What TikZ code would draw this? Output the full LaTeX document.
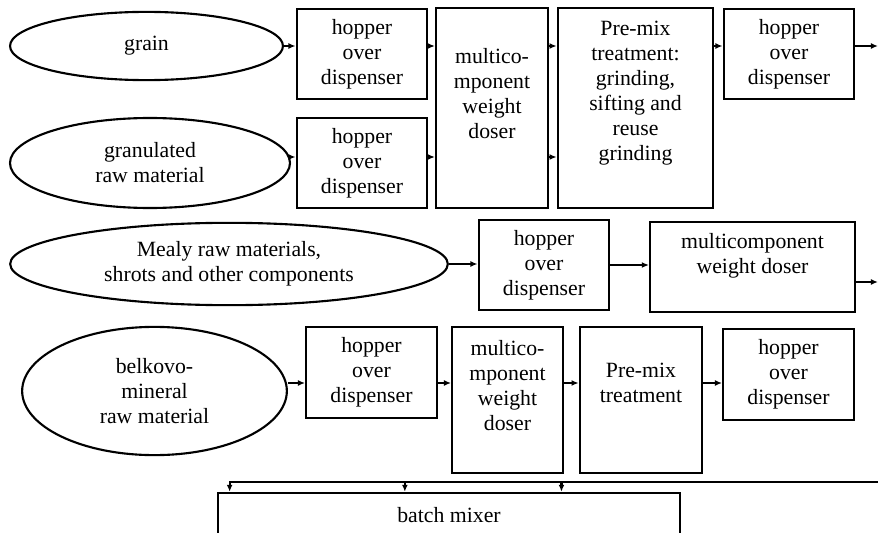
\documentclass[tikz,border=0pt]{standalone}
\usepackage{fontspec}
\setmainfont{Liberation Serif}
\usetikzlibrary{arrows.meta, positioning, shapes.geometric, calc}

\begin{document}
\begin{tikzpicture}[x=0.85pt, y=-0.85pt, >={Latex[length=6pt, width=5pt]},
    font=\fontsize{18.5}{21.25}\selectfont,
    box/.style={draw, line width=2pt, align=center, inner sep=2pt},
    hopbox/.style={box, minimum width=111pt, minimum height=77pt},
    src/.style={draw, ellipse, line width=1.8pt, align=center, inner sep=0pt},
    flow/.style={->, line width=1.8pt},
    toptext/.style={anchor=north, align=center, inner sep=0pt}]
    \useasboundingbox (0,0) rectangle (878,533);

    % grain and granulated line
    \node[src, minimum width=232pt, minimum height=58pt] (grain) at (146.5,46) {grain};
    \node[src, minimum width=238pt, minimum height=76.5pt] (granul) at (150,163) {granulated\\raw material};
    \node[hopbox] (hopA) at (362,54) {hopper\\over\\dispenser};
    \node[hopbox] (hopB) at (362,163) {hopper\\over\\dispenser};
    \node[box, minimum width=95pt, minimum height=170pt,
        label={[toptext, yshift=-35pt]north:{multico-\\mponent\\weight\\doser}}] (doserA) at (492,108) {};
    \node[box, minimum width=132pt, minimum height=170pt,
        label={[toptext, yshift=-12pt]north:{Pre-mix\\treatment:\\grinding,\\sifting and\\reuse\\grinding}}] (premixA) at (635.5,108) {};
    \node[hopbox] (hopC) at (789,54) {hopper\\over\\dispenser};

    % mealy line
    \node[src, minimum width=372pt, minimum height=70pt] (mealy) at (229,264) {Mealy raw materials,\\shrots and other components};
    \node[hopbox] (hopD) at (544,265) {hopper\\over\\dispenser};
    \node[box, minimum width=174pt, minimum height=76.5pt,
        label={[toptext, yshift=-10.5pt]north:{multicomponent\\weight doser}}] (doserB) at (752.5,267) {};

    % belkovo-mineral line
    \node[src, minimum width=225pt, minimum height=109pt] (belkovo) at (154.5,391) {belkovo-\\mineral\\raw material};
    \node[hopbox] (hopE) at (371.5,372.5) {hopper\\over\\dispenser};
    \node[box, minimum width=94pt, minimum height=124pt,
        label={[toptext, yshift=-12pt]north:{multico-\\mponent\\weight\\doser}}] (doserC) at (507.5,400) {};
    \node[box, minimum width=104pt, minimum height=124pt,
        label={[toptext, yshift=-31pt]north:{Pre-mix\\treatment}}] (premixB) at (641,400) {};
    \node[hopbox] (hopF) at (788.5,374.5) {hopper\\over\\dispenser};

    \node[box, minimum width=393pt, minimum height=37.4pt] (mixer) at (449,515) {batch mixer};

    \coordinate (outA) at (878,46);
    \coordinate (outB) at (878,282);
    \coordinate (bus) at (878,482);
    \coordinate (rowB) at (0,157);
    \coordinate (rowE) at (0,383);
    \coordinate (dropA) at ($(mixer.north west)!0.028!(mixer.north east)$);
    \coordinate (dropB) at ($(mixer.north west)!0.405!(mixer.north east)$);
    \coordinate (dropC) at ($(mixer.north west)!0.742!(mixer.north east)$);

    \draw[flow] (grain.east) -- (grain.east -| hopA.west);
    \draw[flow] (grain.east -| hopA.east) -- (grain.east -| doserA.west);
    \draw[flow] (granul.east |- rowB) -- (rowB -| hopB.west);
    \draw[flow] (rowB -| hopB.east) -- (rowB -| doserA.west);
    \draw[flow] (grain.east -| doserA.east) -- (grain.east -| premixA.west);
    \draw[flow] (rowB -| doserA.east) -- (rowB -| premixA.west);
    \draw[flow] (grain.east -| premixA.east) -- (grain.east -| hopC.west);
    \draw[flow] (grain.east -| hopC.east) -- (outA);

    \draw[flow] (mealy.east) -- (mealy.east -| hopD.west);
    \draw[flow] (hopD.east) -- (hopD.east -| doserB.west);
    \draw[flow] (outB -| doserB.east) -- (outB);

    \draw[flow] (belkovo.east |- rowE) -- (rowE -| hopE.west);
    \draw[flow] (rowE -| hopE.east) -- (rowE -| doserC.west);
    \draw[flow] (rowE -| doserC.east) -- (rowE -| premixB.west);
    \draw[flow] (rowE -| premixB.east) -- (rowE -| hopF.west);

    \draw[flow] (bus) -| (dropA);
    \draw[flow] (bus -| dropB) -- (dropB);
    \draw[flow] (bus -| dropC) -- (dropC);
\end{tikzpicture}
\end{document}
